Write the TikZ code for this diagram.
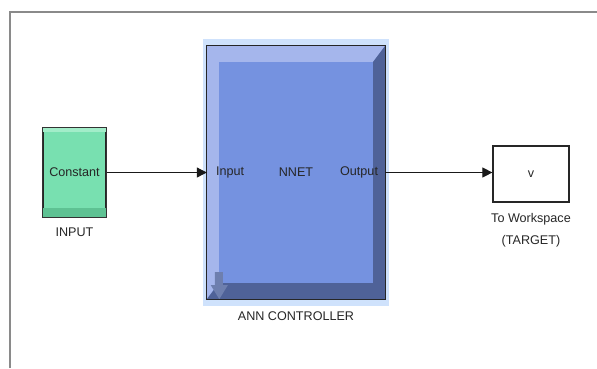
\documentclass[tikz,border=0pt]{standalone}
\usepackage{fontspec}
\setmainfont{Liberation Sans}
\usetikzlibrary{arrows.meta,positioning}

\definecolor{framegray}{HTML}{8A8A8A}
\definecolor{constface}{HTML}{78E0B0}
\definecolor{constlight}{HTML}{A2EDC9}
\definecolor{constdark}{HTML}{5EC293}
\definecolor{annglow}{HTML}{CFE2FC}
\definecolor{annface}{HTML}{7592E0}
\definecolor{annlight}{HTML}{A5B6EC}
\definecolor{anndark}{HTML}{4F6298}
\definecolor{annicon}{HTML}{6E7FAE}
\definecolor{labeltext}{HTML}{262626}

\begin{document}
\begin{tikzpicture}[x=1pt,y=-1pt,
    txt/.style={font=\fontsize{12.6}{14}\selectfont, text=labeltext, inner sep=0pt},
    blk/.style={draw=black!85, line width=1.2pt, inner sep=0pt},
    sig/.style={-{Triangle[length=10pt,width=10pt]}, line width=1pt, black!90}]
  \useasboundingbox (0,0) rectangle (597,368);

  % model frame
  \draw[framegray, line width=2pt] (10,368) -- (10,12) -- (597,12);

  % Constant block
  \node[blk, fill=constface, minimum width=63pt, minimum height=89pt] (const) at (74.5,172.5) {};
  \fill[constlight] (const.north west) rectangle ([shift={(0,5)}]const.north east);
  \fill[constdark] ([shift={(0,-10)}]const.south west) rectangle (const.south east);
  \draw[black!80, line width=1.2pt] (const.north west) rectangle (const.south east);
  \node[txt] (ctext) at (const.center) {Constant};
  \node[txt, below=10pt of const] (cname) {INPUT};

  % NNET block
  \node[inner sep=0pt, minimum width=178pt, minimum height=253pt] (ann) at (296,172.5) {};
  \fill[annglow] ([shift={(-4,-7)}]ann.north west) rectangle ([shift={(4,7)}]ann.south east);
  \fill[annface] (ann.north west) rectangle (ann.south east);
  \fill[annlight] (ann.north west) -- (ann.north east) -- ++(-12,16)
    -- ([shift={(12,16)}]ann.north west) -- ([shift={(12,-16)}]ann.south west) -- (ann.south west) -- cycle;
  \fill[anndark] (ann.north east) -- (ann.south east) -- (ann.south west) -- ++(12,-16)
    -- ([shift={(-12,-16)}]ann.south east) -- ([shift={(-12,16)}]ann.north east) -- cycle;
  \fill[annicon] ([shift={(8,-27)}]ann.south west) -- ++(8,0) -- ++(0,13) -- ++(5,0)
    -- ++(-8.5,14) -- ++(-8.5,-14) -- ++(4,0) -- cycle;
  \draw[black!85, line width=1.2pt] (ann.north west) rectangle (ann.south east);
  \node[txt, anchor=west] (pin) at ([xshift=9pt]ann.west) {Input};
  \node[txt] (nnet) at (ann.center) {NNET};
  \node[txt, anchor=east] (pout) at ([xshift=-7pt]ann.east) {Output};
  \node[txt, below=12pt of ann] (aname) {ANN CONTROLLER};

  % To Workspace block
  \node[blk, fill=white, minimum width=76pt, minimum height=56pt] (ws) at (531,174) {};
  \node[txt] (wtext) at (ws.center) {v};
  \node[txt, align=center, font=\fontsize{12.6}{22}\selectfont, below=11pt of ws] (wname) {To Workspace\\(TARGET)};

  % signals
  \draw[sig] (const.east |- ctext) -- (ann.west |- ctext);
  \draw[sig] (ann.east |- ctext) -- (ws.west |- ctext);
\end{tikzpicture}
\end{document}
